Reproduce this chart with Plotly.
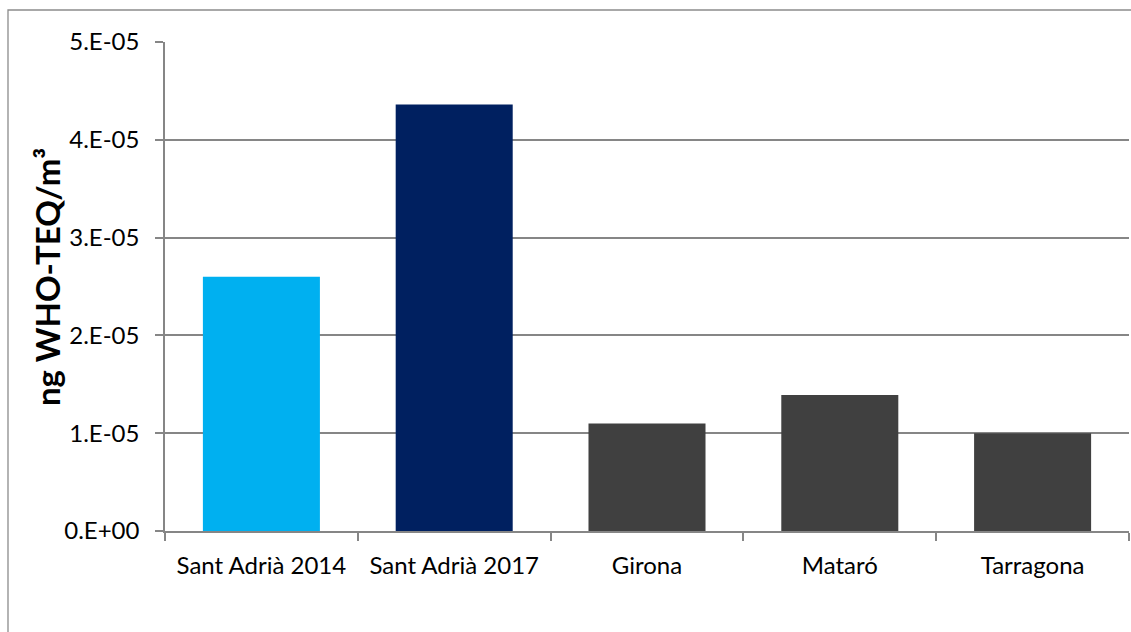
import plotly.graph_objects as go

# Data
sites = ["Sant Adrià 2014", "Sant Adrià 2017", "Girona", "Mataró", "Tarragona"]
teq_values = [2.60e-05, 4.36e-05, 1.10e-05, 1.39e-05, 1.00e-05]
bar_colors = ["#00B0F0", "#002060", "#404040", "#404040", "#404040"]

y_tick_vals = [0, 1e-05, 2e-05, 3e-05, 4e-05, 5e-05]
y_tick_text = ["0.E+00", "1.E-05", "2.E-05", "3.E-05", "4.E-05", "5.E-05"]
y_title = "ng WHO-TEQ/m³"

W, H = 1131, 632
L, R, T, B = 165, 2, 42, 101
plot_w = W - L - R
plot_h = H - T - B

GRID = "#868686"
FONT = "Lato"

fig = go.Figure(
    go.Bar(
        x=sites,
        y=teq_values,
        marker={"color": bar_colors, "line": {"width": 0}},
        hovertemplate="%{x}: %{y:.2e}<extra></extra>",
    )
)

fig.update_layout(
    width=W,
    height=H,
    margin={"l": L, "r": R, "t": T, "b": B},
    plot_bgcolor="white",
    paper_bgcolor="white",
    bargap=0.393,
    showlegend=False,
    font={"family": FONT, "color": "#000000", "size": 24},
)

fig.update_yaxes(
    range=[0, 5e-05],
    tickvals=y_tick_vals,
    ticktext=y_tick_text,
    showgrid=True,
    gridcolor=GRID,
    gridwidth=1.5,
    showline=True,
    linecolor=GRID,
    linewidth=1.5,
    ticks="outside",
    ticklen=8,
    tickcolor=GRID,
    tickwidth=1.5,
    ticklabelstandoff=11,
    zeroline=False,
    tickfont={"family": FONT, "size": 24},
)

fig.update_xaxes(
    showgrid=False,
    showline=True,
    linecolor=GRID,
    linewidth=1.5,
    ticks="outside",
    tickson="boundaries",
    ticklen=8,
    tickcolor=GRID,
    tickwidth=1.5,
    ticklabelstandoff=12,
    tickfont={"family": FONT, "size": 24},
)

# y axis title placed by hand, as in the spreadsheet chart
fig.add_annotation(
    text=y_title,
    xref="paper",
    yref="paper",
    x=(47 - L) / plot_w,
    y=(531 - 277) / plot_h,
    xanchor="center",
    yanchor="middle",
    textangle=-90,
    showarrow=False,
    font={"family": FONT, "size": 33, "color": "#000000", "weight": "bold"},
)

# outer chart frame
fig.add_shape(
    type="rect",
    xref="paper",
    yref="paper",
    x0=(8 - L) / plot_w,
    x1=(W + 6 - L) / plot_w,
    y0=(531 - (H + 6)) / plot_h,
    y1=(531 - 10) / plot_h,
    line={"color": "#8c8c8c", "width": 1.3},
    layer="below",
)

fig.write_html(
    "out.html",
    config={"displayModeBar": False},
    post_script="document.body.style.margin='0';document.body.style.overflow='hidden';",
)
